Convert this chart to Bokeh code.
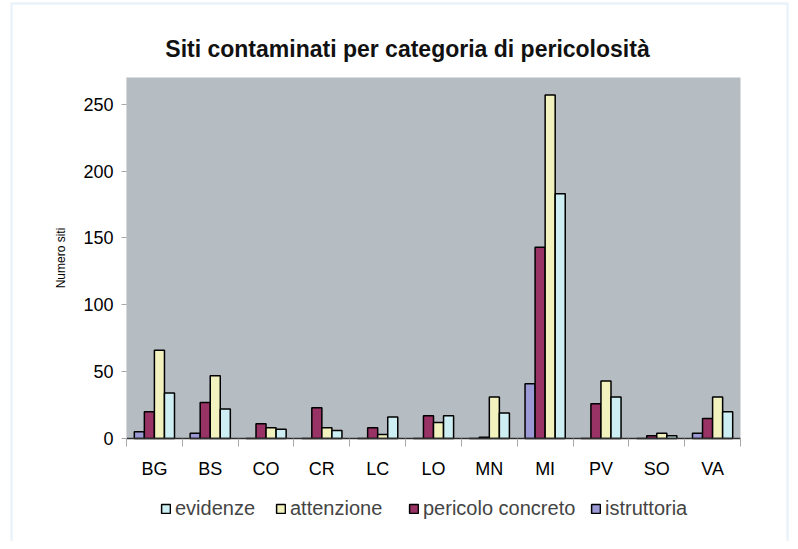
from bokeh.plotting import figure
from bokeh.models import (ColumnDataSource, FixedTicker, Legend, LegendItem, Range1d,
                          Label, BoxAnnotation)
from bokeh.transform import dodge
from bokeh.embed import file_html
from bokeh.resources import INLINE

# ---- data ----
provinces = ["BG", "BS", "CO", "CR", "LC", "LO", "MN", "MI", "PV", "SO", "VA"]
istruttoria = [5, 4, 0, 0, 0, 0, 0, 41, 0, 0, 4]
pericolo_concreto = [20, 27, 11, 23, 8, 17, 1, 143, 26, 2, 15]
attenzione = [66, 47, 8, 8, 3, 12, 31, 257, 43, 4, 31]
evidenze = [34, 22, 7, 6, 16, 17, 19, 183, 31, 2, 20]
y_ticks = [0, 50, 100, 150, 200, 250]
y_max = 270

series = [("istruttoria", istruttoria, "#9c9ad4"),
          ("pericolo concreto", pericolo_concreto, "#993366"),
          ("attenzione", attenzione, "#f2f2bf"),
          ("evidenze", evidenze, "#cdeef2")]
legend_order = ["evidenze", "attenzione", "pericolo concreto", "istruttoria"]

centers = [i + 0.5 for i in range(len(provinces))]
data = dict(x=centers)
for name, vals, _ in series:
    data[name] = vals
source = ColumnDataSource(data)

FONT = "Liberation Sans"
W, H = 790, 541
# plot-area placement inside the canvas (pixels)
PL, PR, PT, PB = 126, 740, 77, 438
n = len(provinces)
sx = (PR - PL) / n            # px per category
sy = (PB - PT) / y_max        # px per unit
x_range = Range1d(-PL / sx, n + (W - PR) / sx)
y_range = Range1d(-(H - PB) / sy, y_max + PT / sy)

p = figure(width=W, height=H, output_backend="svg", toolbar_location=None,
           x_range=x_range, y_range=y_range,
           min_border=0, min_border_left=0, min_border_right=0,
           min_border_top=0, min_border_bottom=0)
p.background_fill_color = "white"
p.border_fill_color = "white"
p.outline_line_color = None
p.xgrid.grid_line_color = None
p.ygrid.grid_line_color = None

# grey plot area
p.add_layout(BoxAnnotation(left=0, right=n, bottom=0, top=y_max,
                           fill_color="#b5bdc3", fill_alpha=1.0,
                           line_color=None, level="underlay"))

# outer light-blue frame
p.add_layout(BoxAnnotation(left=-(PL - 11) / sx, right=n + (787 - PR) / sx,
                           top=y_max + (PT - 3) / sy, bottom=-(H + 10 - PB) / sy,
                           fill_color=None, fill_alpha=0,
                           line_color="#b9d6f0", line_width=2.5, level="overlay"))

bw = 0.18
offsets = [-1.5 * bw, -0.5 * bw, 0.5 * bw, 1.5 * bw]
renderers = {}
for (name, vals, col), off in zip(series, offsets):
    r = p.vbar(x=dodge("x", off, range=p.x_range), top=name, width=bw,
               source=source, fill_color=col, line_color="black", line_width=1.5)
    renderers[name] = r

# x axis (fixed at y = 0)
p.xaxis.fixed_location = 0
p.xaxis.bounds = (0, n)
p.xaxis.ticker = FixedTicker(ticks=centers, minor_ticks=list(range(n + 1)))
p.xaxis.major_label_overrides = {c: lab for c, lab in zip(centers, provinces)}
p.xaxis.major_tick_line_color = None
p.xaxis.minor_tick_line_color = "#a8a8a8"
p.xaxis.minor_tick_out = 8
p.xaxis.minor_tick_in = 0
p.xaxis.axis_line_color = "#303030"
p.xaxis.axis_line_width = 1.5
p.xaxis.major_label_text_font = FONT
p.xaxis.major_label_text_font_size = "18px"
p.xaxis.major_label_text_color = "black"
p.xaxis.major_label_standoff = 12

# y axis (fixed at x = 0)
p.yaxis.fixed_location = 0
p.yaxis.bounds = (0, y_max)
p.yaxis.ticker = FixedTicker(ticks=y_ticks)
p.yaxis.minor_tick_line_color = None
p.yaxis.major_tick_line_color = "#a8a8a8"
p.yaxis.major_tick_out = 5
p.yaxis.major_tick_in = 0
p.yaxis.axis_line_color = "#d8d8d8"
p.yaxis.major_label_text_font = FONT
p.yaxis.major_label_text_font_size = "18px"
p.yaxis.major_label_text_color = "black"
p.yaxis.major_label_standoff = 8
p.yaxis.axis_label = "Numero siti"
p.yaxis.axis_label_text_font = FONT
p.yaxis.axis_label_text_font_size = "12px"
p.yaxis.axis_label_text_font_style = "normal"
p.yaxis.axis_label_text_color = "black"
p.yaxis.axis_label_standoff = 12

# title
p.add_layout(Label(x=(407 - PL) / sx, y=y_max + (PT - 48) / sy,
                   text="Siti contaminati per categoria di pericolosità",
                   text_font=FONT, text_font_size="23px", text_font_style="bold",
                   text_align="center", text_baseline="middle", text_color="#111111"))

# legends, one per item, placed below the axis
leg_x = [160, 275, 408, 590]
for name, lx in zip(legend_order, leg_x):
    lg = Legend(items=[LegendItem(label=name, renderers=[renderers[name]])],
                location=(lx, H - 520), orientation="horizontal",
                glyph_width=11, glyph_height=11, label_standoff=4,
                label_text_font=FONT, label_text_font_size="20px",
                label_height=24, padding=0, margin=0, spacing=0,
                border_line_color=None, background_fill_alpha=0)
    p.add_layout(lg, "center")

html = file_html(p, INLINE)
open("out.html", "w").write(html)
